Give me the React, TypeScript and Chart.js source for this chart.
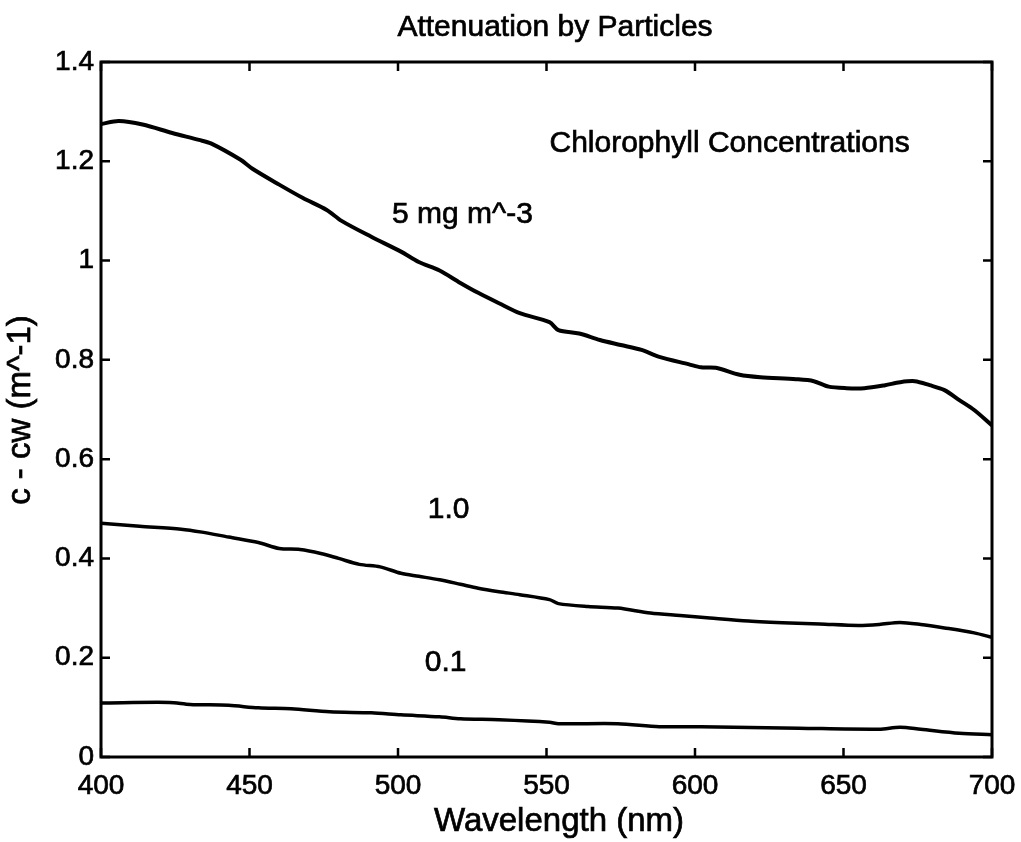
import React, { useEffect, useRef } from "react";
import { Chart, registerables } from "chart.js";

Chart.register(...registerables);

// ---- data ----
const wl5 = [400, 406, 414, 424, 433, 437, 447, 451, 460, 468, 476, 481, 491, 501, 507, 514, 521, 527, 534, 541, 551, 554, 561, 568, 575, 582, 588, 598, 602, 607, 615, 622, 634, 640, 645, 651, 657, 664, 669, 674, 679, 684, 689, 694, 700];
const val5 = [1.275, 1.281, 1.274, 1.257, 1.243, 1.236, 1.203, 1.185, 1.153, 1.126, 1.102, 1.08, 1.048, 1.018, 0.997, 0.98, 0.955, 0.935, 0.914, 0.894, 0.876, 0.86, 0.853, 0.84, 0.83, 0.82, 0.806, 0.791, 0.785, 0.784, 0.77, 0.765, 0.761, 0.757, 0.746, 0.743, 0.743, 0.749, 0.755, 0.757, 0.749, 0.739, 0.719, 0.699, 0.668];

const wl1 = [400, 413, 427, 434, 443, 453, 460, 467, 474, 480, 487, 494, 501, 507, 514, 521, 527, 534, 541, 551, 554, 564, 574, 585, 595, 605, 618, 632, 642, 655, 662, 669, 676, 684, 694, 700];
const val1 = [0.471, 0.465, 0.459, 0.453, 0.443, 0.432, 0.42, 0.418, 0.41, 0.4, 0.388, 0.383, 0.37, 0.364, 0.357, 0.348, 0.34, 0.333, 0.327, 0.317, 0.309, 0.303, 0.3, 0.29, 0.285, 0.28, 0.274, 0.27, 0.268, 0.265, 0.267, 0.271, 0.267, 0.26, 0.25, 0.241];

const wl01 = [400, 423, 430, 443, 453, 464, 477, 491, 501, 514, 521, 534, 551, 554, 574, 588, 602, 635, 662, 669, 676, 689, 700];
const val01 = [0.109, 0.11, 0.106, 0.104, 0.099, 0.097, 0.091, 0.089, 0.085, 0.081, 0.077, 0.075, 0.07, 0.067, 0.067, 0.061, 0.061, 0.058, 0.056, 0.06, 0.056, 0.048, 0.045];

const xTicks = [400, 450, 500, 550, 600, 650, 700];
const yTicks = [0, 0.2, 0.4, 0.6, 0.8, 1, 1.2, 1.4];

const titleText = "Attenuation by Particles";
const xTitle = "Wavelength (nm)";
const yTitle = "c - cw (m^-1)";

const noteTexts = ["Chlorophyll Concentrations", "5 mg m^-3", "1.0", "0.1"];
const noteX = [551, 498, 510, 509];
const noteY = [1.236, 1.093, 0.498, 0.19];

const FONT = '"Liberation Sans", Arial, sans-serif';

const toPts = (xs: number[], ys: number[]) => xs.map((x, i) => ({ x, y: ys[i] }));

export default function App() {
  const ref = useRef<HTMLCanvasElement | null>(null);

  useEffect(() => {
    if (!ref.current) return;
    const text = (ctx: CanvasRenderingContext2D, t: string, x: number, y: number) => {
      ctx.strokeText(t, x, y);
      ctx.fillText(t, x, y);
    };
    const framePlugin = {
      id: "frame",
      afterDraw(chart: any) {
        const { ctx, chartArea: a, scales } = chart;
        const xs = scales.x;
        const ys = scales.y;
        ctx.save();
        ctx.strokeStyle = "#000";
        ctx.lineWidth = 3;
        ctx.strokeRect(a.left, a.top, a.right - a.left, a.bottom - a.top);
        ctx.lineWidth = 2.5;
        const tl = 9;
        ctx.beginPath();
        xTicks.forEach((v) => {
          const px = xs.getPixelForValue(v);
          ctx.moveTo(px, a.bottom);
          ctx.lineTo(px, a.bottom - tl);
          ctx.moveTo(px, a.top);
          ctx.lineTo(px, a.top + tl);
        });
        yTicks.forEach((v) => {
          const py = ys.getPixelForValue(v);
          ctx.moveTo(a.left, py);
          ctx.lineTo(a.left + tl, py);
          ctx.moveTo(a.right, py);
          ctx.lineTo(a.right - tl, py);
        });
        ctx.stroke();

        ctx.fillStyle = "#000";
        ctx.lineWidth = 0.7;
        ctx.textBaseline = "middle";
        ctx.textAlign = "center";
        ctx.font = `30px ${FONT}`;
        text(ctx, titleText, 555, 28);
        ctx.font = `33px ${FONT}`;
        text(ctx, xTitle, 559, 822);
        ctx.save();
        ctx.translate(21, 410);
        ctx.rotate(-Math.PI / 2);
        text(ctx, yTitle, 0, 0);
        ctx.restore();

        ctx.font = `30px ${FONT}`;
        ctx.textAlign = "left";
        noteTexts.forEach((t, i) => {
          text(ctx, t, xs.getPixelForValue(noteX[i]), ys.getPixelForValue(noteY[i]));
        });
        ctx.restore();
      },
    };

    const ds = (xs: number[], ys: number[], w: number) => ({
      data: toPts(xs, ys),
      borderColor: "#000",
      borderWidth: w,
      pointRadius: 0,
      tension: 0.3,
      fill: false,
    });

    const tickFont = { family: FONT, size: 28 };

    const chart = new Chart(ref.current, {
      type: "line",
      data: {
        datasets: [ds(wl5, val5, 4), ds(wl1, val1, 3.5), ds(wl01, val01, 3.5)],
      },
      options: {
        animation: false,
        responsive: false,
        maintainAspectRatio: false,
        layout: { padding: { top: 62, right: 29, left: 0, bottom: 0 } },
        plugins: { legend: { display: false }, tooltip: { enabled: false }, title: { display: false } },
        scales: {
          x: {
            type: "linear",
            min: 400,
            max: 700,
            afterFit: (s: any) => {
              s.height = 85;
              s.paddingLeft = 0;
              s.paddingRight = 0;
            },
            afterBuildTicks: (s: any) => {
              s.ticks = xTicks.map((v) => ({ value: v }));
            },
            grid: { display: false, drawTicks: false },
            border: { display: false },
            ticks: {
              color: "#000",
              font: tickFont,
              padding: 12,
              maxRotation: 0,
              textStrokeColor: "#000",
              textStrokeWidth: 0.7,
              callback: (v: any) => String(Math.round(Number(v))),
            },
          },
          y: {
            type: "linear",
            min: 0,
            max: 1.4,
            afterFit: (s: any) => {
              s.width = 101;
              s.paddingTop = 0;
              s.paddingBottom = 0;
            },
            afterBuildTicks: (s: any) => {
              s.ticks = yTicks.map((v) => ({ value: v }));
            },
            grid: { display: false, drawTicks: false },
            border: { display: false },
            ticks: {
              color: "#000",
              font: tickFont,
              padding: 7,
              textStrokeColor: "#000",
              textStrokeWidth: 0.7,
              callback: (v: any) => String(Math.round(Number(v) * 10) / 10),
            },
          },
        },
      },
      plugins: [framePlugin],
    } as any);
    return () => chart.destroy();
  }, []);

  return (
    <div style={{ position: "fixed", left: 0, top: 0, width: 1021, height: 842, background: "#fff" }}>
      <canvas ref={ref} width={1021} height={842} style={{ display: "block" }} />
    </div>
  );
}
